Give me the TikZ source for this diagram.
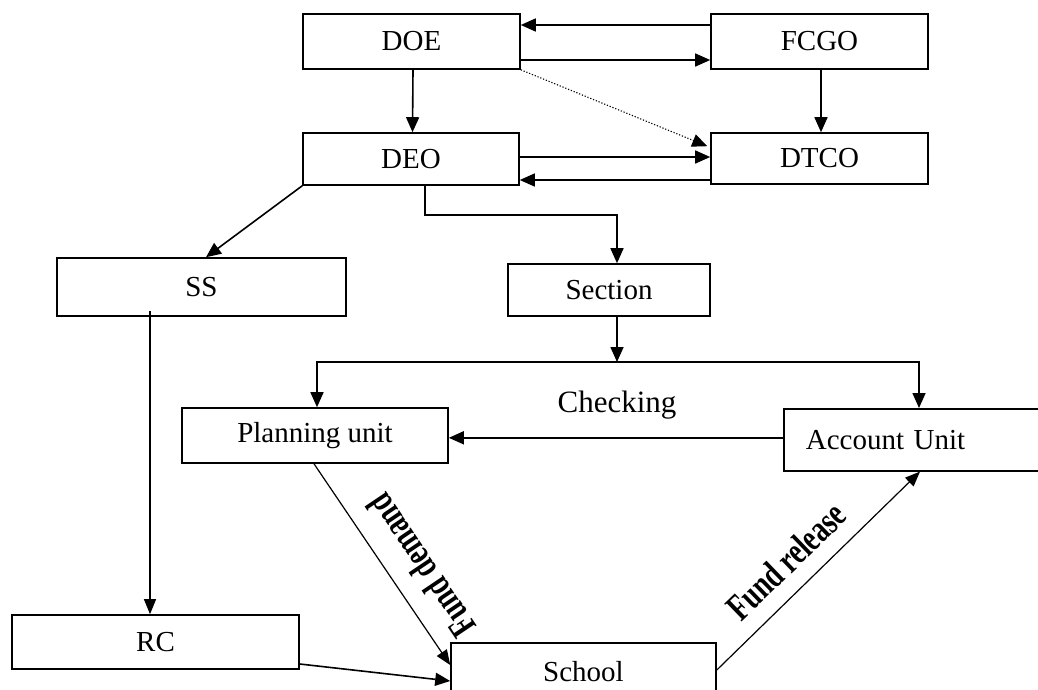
\documentclass[tikz,border=0pt]{standalone}
\usepackage{fontspec}
\setmainfont{Liberation Serif}
\newfontfamily\labelfont[FakeStretch=0.72]{Liberation Serif}
\usetikzlibrary{arrows.meta}
\begin{document}
\begin{tikzpicture}[x=1pt,y=-1pt,
  box/.style={draw, line width=1.6pt, inner sep=0pt, fill=white,
    font=\fontsize{29}{33}\selectfont},
  link/.style={line width=1.6pt, -{Triangle[length=15pt,width=13pt]}},
  thinlink/.style={line width=1.2pt, -{Triangle[length=15pt,width=12pt]}},
  dotlink/.style={line width=1.1pt, dash pattern=on 1.2pt off 1.8pt,
    -{Triangle[length=15pt,width=13pt]}},
  lbl/.style={inner sep=0pt, font=\labelfont\bfseries\fontsize{38}{42}\selectfont},
]
\useasboundingbox (0,0) rectangle (1038,689);
\clip (0,0) rectangle (1038,689);

% offices
\node[box, minimum width=217pt, minimum height=55pt] (doe) at (411.5,41.5) {DOE};
\node[box, minimum width=217pt, minimum height=55pt] (fcgo) at (819.5,41.5) {FCGO};
\node[box, minimum width=216pt, minimum height=52pt] (deo) at (411,159) {DEO};
\node[box, minimum width=217pt, minimum height=51pt] (dtco) at (819.5,158.5) {DTCO};
\node[box, minimum width=289pt, minimum height=58pt] (ss) at (201.5,287) {SS};
\node[box, minimum width=202pt, minimum height=52pt] (section) at (609,290) {Section};
\node[box, minimum width=266pt, minimum height=55pt] (planning) at (315,435.5) {Planning unit};
\node[box, anchor=north west, text width=273pt, inner xsep=22pt,
      minimum height=62pt, align=left] (account) at (783,408) {Account Unit};
\node[box, minimum width=287pt, minimum height=54pt] (rc) at (155.5,642) {RC};
\node[box, minimum width=265pt, minimum height=58pt] (school) at (583.5,672) {School};
\node[font=\fontsize{31}{34}\selectfont] (checking) at (617,405) {Checking};

\coordinate (deoturn) at (520,215);
\coordinate (split) at (617,362);

% top level exchanges
\draw[link] ([yshift=16.5pt]fcgo.west) -- ([yshift=16.5pt]fcgo.west -| doe.east);
\draw[link] ([yshift=-18.5pt]doe.east) -- ([yshift=-18.5pt]doe.east -| fcgo.west);
\draw[link] ([xshift=1.5pt]doe.south) -- ([xshift=1.5pt]deo.north);
\draw[link] ([xshift=1.5pt]fcgo.south) -- ([xshift=1.5pt]dtco.north);
\draw[dotlink] (doe.south east) -- ([xshift=-3pt,yshift=-14pt]dtco.north west);
\draw[link] ([yshift=2pt]deo.east) -- ([yshift=2pt]deo.east -| dtco.west);
\draw[link] ([yshift=-21pt]deo.east -| dtco.west) -- ([yshift=-21pt]deo.east);

% district office branches
\draw[link] (deo.south west) -- ([xshift=4.5pt]ss.north);
\draw[link] ([xshift=14pt]deo.south) |- (deoturn) -| ([xshift=8pt]section.north);
\draw[link] ([xshift=8pt]section.south) -- (split);
\draw[link] (split) -| ([xshift=2pt]planning.north);
\draw[link] (split) -| ([xshift=136pt]account.north west);
\draw[link] ([yshift=2pt]account.west) -- ([yshift=2pt]account.west -| planning.east);

% to the school
\draw[thinlink] ([xshift=-51.5pt,yshift=6pt]ss.south) -- ([xshift=-51.5pt]ss.south |- rc.north);
\draw[link] ([yshift=-22pt]rc.east) -- ([yshift=-9pt]school.west);
\draw[thinlink] ([xshift=-1pt]planning.south) -- ([yshift=7pt]school.west);
\draw[thinlink] ([yshift=2pt]school.east) -- ([xshift=137pt]account.south west);

\node[lbl, rotate=124] (demand) at (421,566) {Fund demand};
\node[lbl, rotate=44] (release) at (786,561) {Fund release};
\end{tikzpicture}
\end{document}
